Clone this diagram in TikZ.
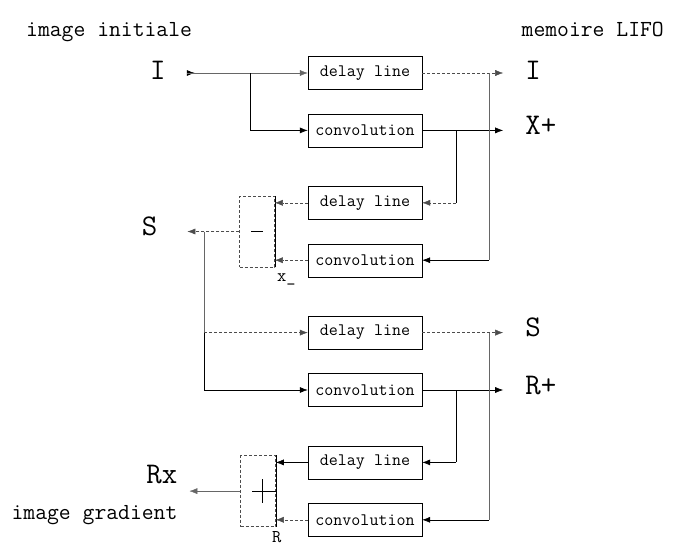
\documentclass[tikz,border=0pt]{standalone}
\usepackage{fontspec}
\usepackage{tikz}
\usetikzlibrary{arrows.meta,positioning,calc}

\begin{document}
\begin{tikzpicture}[x=1pt,y=-1pt,node distance=24pt,>={Latex[length=8pt,width=6pt]}]
\tikzstyle{unit}=[rectangle,draw,thin,minimum width=114pt,minimum height=33pt,inner sep=0pt,font=\ttfamily\fontsize{17.5}{18}\selectfont]
\tikzstyle{sumbox}=[rectangle,draw=black!70,densely dashed,thin,minimum width=35pt,minimum height=71pt,inner sep=0pt]
\tikzstyle{lbl}=[inner sep=0pt,font=\ttfamily\fontsize{30}{30}\selectfont]
\tikzstyle{note}=[inner sep=0pt,font=\ttfamily\fontsize{23}{24}\selectfont]
\tikzstyle{small}=[inner sep=0pt,font=\ttfamily\fontsize{18}{18}\selectfont]
\tikzstyle{faint}=[draw=black!60,thin]
\tikzstyle{strong}=[draw=black,semithick]
\tikzstyle{brk}=[draw=black!70,thin,densely dashed]
\useasboundingbox (0,0) rectangle (683,552);

\node[note,anchor=base west] (hin) at (26,36) {image initiale};
\node[note,anchor=base east] (hout) at (664,36) {memoire LIFO};

% boxes
\node[unit] (d1) at (365,73) {delay line};
\node[unit,below=of d1] (c1) {convolution};
\node[unit,below=39pt of c1] (d2) {delay line};
\node[unit,below=of d2] (c2) {convolution};
\node[unit,below=39pt of c2] (d3) {delay line};
\node[unit,below=of d3] (c3) {convolution};
\node[unit,below=39pt of c3] (d4) {delay line};
\node[unit,below=of d4] (c4) {convolution};

\coordinate (m2) at ($(d2.west)!0.5!(c2.west)$);
\coordinate (m4) at ($(d4.west)!0.5!(c4.west)$);
\node[sumbox,left=33pt of m2] (minus) {};
\node[sumbox,left=32pt of m4] (plus) {};
\draw[strong] (minus.north east) -- (minus.south east);
\draw[strong] (plus.north east) -- (plus.south east);
\draw[strong] ($(minus.center)+(-6,0)$) -- ($(minus.center)+(6,0)$);
\draw[strong] ($(plus.center)+(-6,0)$) -- (plus.east);
\draw[strong] ($(plus.center)+(4,-12)$) -- ($(plus.center)+(4,12)$);

% free ends
\coordinate (src) at ($(d1.west)+(-121,0)$);
\coordinate (br1) at ($(d1.west)+(-58,0)$);
\coordinate (o1) at ($(d1.east)+(81,0)$);
\coordinate (o2) at ($(c1.east)+(81,0)$);
\coordinate (o3) at ($(d3.east)+(81,0)$);
\coordinate (o4) at ($(c3.east)+(81,0)$);
\coordinate (j1) at ($(c1.east)+(34,0)$);
\coordinate (j2) at ($(d1.east)+(67,0)$);
\coordinate (j4) at ($(c3.east)+(34,0)$);
\coordinate (j5) at ($(d3.east)+(67,0)$);
\coordinate (sl) at ($(minus.west)+(-52,0)$);
\coordinate (j3) at ($(sl)+(17,0)$);
\coordinate (rx) at ($(plus.west)+(-51,0)$);

% labels
\node[lbl,anchor=base] (iin) at ($(src)+(-29,6)$) {I};
\node[lbl,anchor=base west] (iout) at ($(o1)+(22,6)$) {I};
\node[lbl,anchor=base west] (xp) at ($(o2)+(22,4)$) {X+};
\node[lbl,anchor=base west] (sout) at ($(o3)+(22,4)$) {S};
\node[lbl,anchor=base west] (rp) at ($(o4)+(22,4)$) {R+};
\node[lbl,anchor=base east] (sin) at ($(sl)+(-30,4)$) {S};
\node[lbl,anchor=base east] (rxl) at ($(rx)+(-12,-8)$) {Rx};
\node[note,anchor=base west] (hgr) at ($(rx)+(-178,28)$) {image gradient};
\node[small,anchor=north west] (xm) at ($(minus.south east)+(2,6)$) {x\_};
\node[small,anchor=north west] (rr) at ($(plus.south east)+(-4,4)$) {R};

% first stage
\draw[strong,{Latex[reversed,length=8pt,width=6pt]}-] (src) -- ($(src)+(1,0)$);
\draw[faint,->] (src) -- (d1.west);
\draw[strong,->] (br1) |- (c1.west);
\draw[brk,->] (d1.east) -- (o1);
\draw[strong,->] (c1.east) -- (o2);
\draw[strong] (j1) -- (j1 |- d2.east);
\draw[brk,->] (j1 |- d2.east) -- (d2.east);
\draw[faint] (j2) -- (j2 |- c2.east);
\draw[strong,->] (j2 |- c2.east) -- (c2.east);
\draw[brk,->] (d2.west) -- (d2.west -| minus.east);
\draw[brk,->] (c2.west) -- (c2.west -| minus.east);
\draw[brk,->] (minus.west) -- (sl);

% second stage
\draw[faint] (j3) -- (j3 |- d3.west);
\draw[strong] (j3 |- d3.west) -- (j3 |- c3.west);
\draw[brk,->] (j3 |- d3.west) -- (d3.west);
\draw[strong,->] (j3 |- c3.west) -- (c3.west);
\draw[brk,->] (d3.east) -- (o3);
\draw[strong,->] (c3.east) -- (o4);
\draw[strong] (j4) -- (j4 |- d4.east);
\draw[strong,->] (j4 |- d4.east) -- (d4.east);
\draw[faint] (j5) -- (j5 |- c4.east);
\draw[strong,->] (j5 |- c4.east) -- (c4.east);
\draw[strong,->] (d4.west) -- (d4.west -| plus.east);
\draw[brk,->] (c4.west) -- (c4.west -| plus.east);
\draw[faint,->] (plus.west) -- (rx);
\end{tikzpicture}
\end{document}
